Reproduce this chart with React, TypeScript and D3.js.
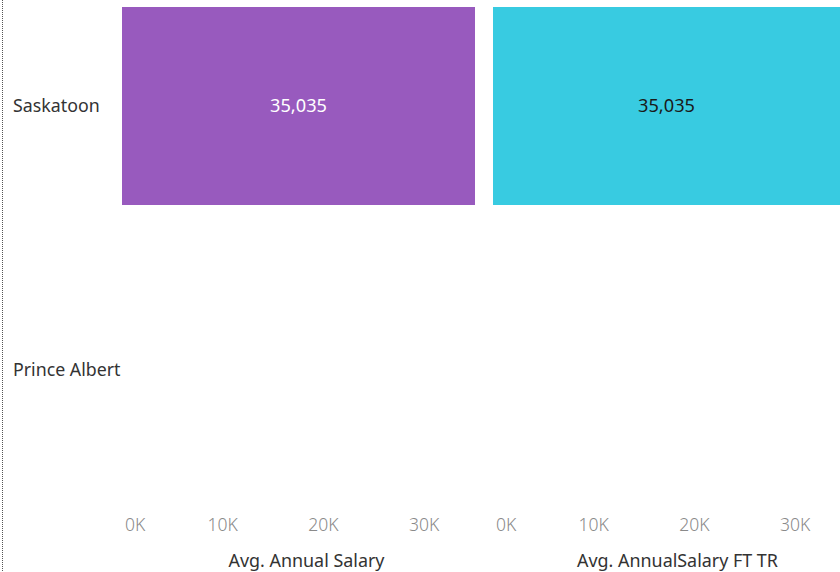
import React from "react";
import * as d3 from "d3";

const cities = ["Saskatoon", "Prince Albert"];
const avgAnnualSalary = [35035, null];
const avgAnnualSalaryFtTr = [35035, null];
const tickValues = [0, 10000, 20000, 30000];
const measures = ["Avg. Annual Salary", "Avg. AnnualSalary FT TR"];

const W = 840;
const H = 572;
const FONT = "'Noto Sans', 'Open Sans', sans-serif";

export default function App() {
  const y = d3.scaleBand<string>().domain(cities).range([-26, 502]).paddingInner(0.25).paddingOuter(0.125);
  const paneWidth = 353;
  const panes = [
    { x0: 122, values: avgAnnualSalary, color: "#985ABE", textColor: "#ffffff", title: measures[0] },
    { x0: 493, values: avgAnnualSalaryFtTr, color: "#38CBE1", textColor: "#1a1a1a", title: measures[1] },
  ];
  const fmtTick = (v: number) => d3.format("d")(v / 1000) + "K";
  const fmtVal = d3.format(",");

  return (
    <svg width={W} height={H} style={{ position: "fixed", left: 0, top: 0, background: "#fff" }} fontFamily={FONT}>
      <defs>
        <clipPath id="clip">
          <rect x={0} y={0} width={W} height={H} />
        </clipPath>
      </defs>
      <line x1={2.5} x2={2.5} y1={0} y2={H} stroke="#555" strokeWidth={1} strokeDasharray="1,1" />
      {cities.map((c) => (
        <text key={c} x={13} y={(y(c) ?? 0) + y.bandwidth() / 2} dy="0.35em" fontSize={17.8} fill="#333">
          {c}
        </text>
      ))}
      {panes.map((p, pi) => {
        const x = d3.scaleLinear().domain([0, 35035]).range([p.x0, p.x0 + paneWidth]);
        const visRight = Math.min(p.x0 + paneWidth, W);
        return (
          <g key={pi} clipPath="url(#clip)">
            {cities.map((c, i) => {
              const v = p.values[i];
              if (v == null) return null;
              const bx = x(0);
              const bw = x(v) - x(0);
              const by = y(c) ?? 0;
              const cx = (bx + Math.min(bx + bw, visRight)) / 2;
              return (
                <g key={c}>
                  <rect x={bx} y={by} width={bw} height={y.bandwidth()} fill={p.color} />
                  <text x={cx} y={by + y.bandwidth() / 2} dy="0.35em" textAnchor="middle" fontSize={18.2} fill={p.textColor}>
                    {fmtVal(v)}
                  </text>
                </g>
              );
            })}
            {tickValues.map((t, ti) => (
              <text
                key={t}
                x={ti === 0 ? x(t) + 3 : x(t)}
                y={525}
                dy="0.35em"
                textAnchor={ti === 0 ? "start" : "middle"}
                fontSize={17.5}
                fontWeight={300}
                fill="#8a8a8a"
              >
                {fmtTick(t)}
              </text>
            ))}
            <text x={(p.x0 + p.x0 + paneWidth) / 2 + 8} y={561} dy="0.35em" textAnchor="middle" fontSize={17.9} fill="#333">
              {p.title}
            </text>
          </g>
        );
      })}
    </svg>
  );
}
